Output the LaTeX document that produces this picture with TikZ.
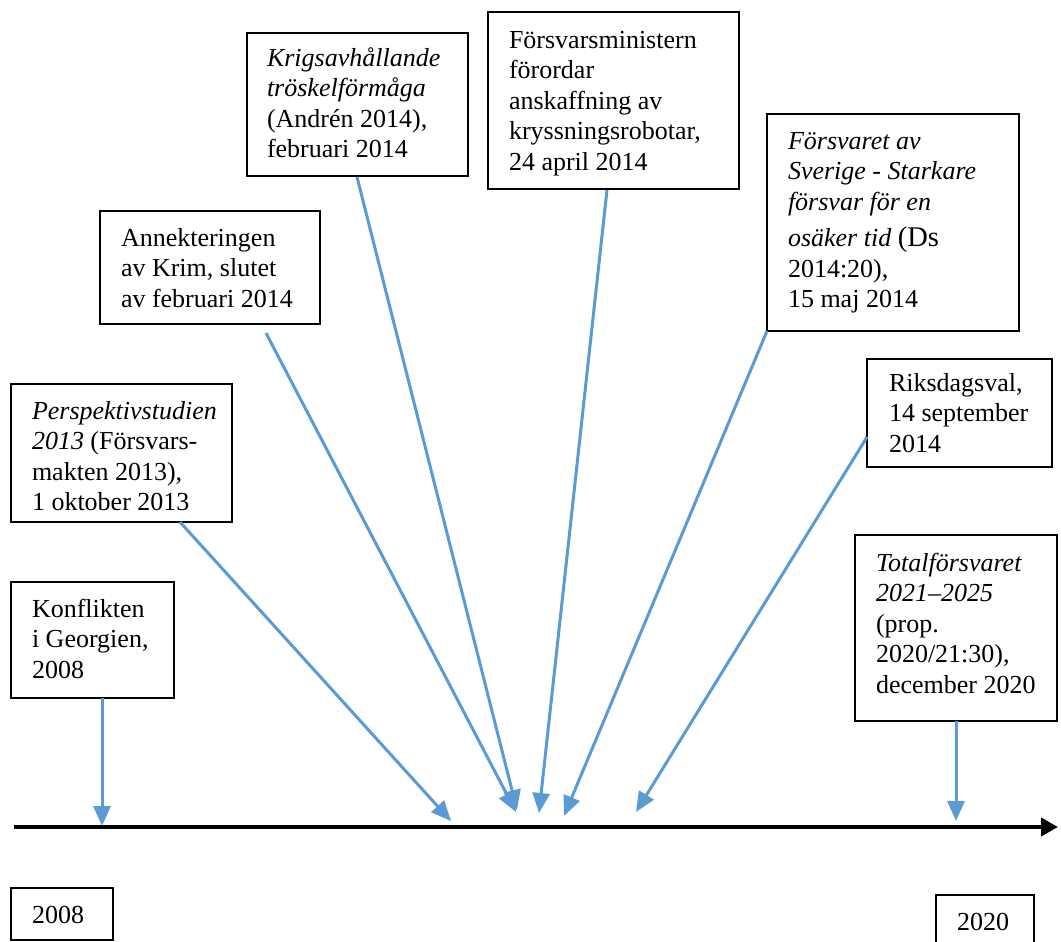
\documentclass[tikz,border=0pt]{standalone}
\usepackage{fontspec}
\setmainfont{Liberation Serif}
\usetikzlibrary{arrows.meta}
\definecolor{arrowblue}{HTML}{5B9BD5}
\newcommand{\fs}{\fontsize{26}{30.5}\selectfont}
\tikzset{
  box/.style={draw=black, line width=1.8pt, inner sep=0pt, outer sep=0pt, anchor=north west},
  txt/.style={anchor=north west, inner sep=0pt, outer sep=0pt, align=left, font=\fs},
  conn/.style={draw=arrowblue, line width=3pt, -{Triangle[length=20pt,width=17pt]}},
  axis/.style={draw=black, line width=4pt, -{Triangle[length=17pt,width=18pt]}}
}
\begin{document}
\begin{tikzpicture}[x=1pt,y=-1pt]
\clip (0,0) rectangle (1061,942);
\fill[white] (0,0) rectangle (1061,942);

% boxes
\node[box, minimum width=163pt, minimum height=116pt] (konf) at (11,582) {};
\node[box, minimum width=221pt, minimum height=138pt] (persp) at (11,384) {};
\node[box, minimum width=220pt, minimum height=113pt] (annek) at (100,211) {};
\node[box, minimum width=221pt, minimum height=143pt] (krig) at (247,33) {};
\node[box, minimum width=251pt, minimum height=177pt] (fmin) at (488,12) {};
\node[box, minimum width=252pt, minimum height=217pt] (fsv) at (767,114) {};
\node[box, minimum width=185pt, minimum height=108pt] (riks) at (867,359) {};
\node[box, minimum width=202pt, minimum height=186pt] (totf) at (855,535) {};
\node[box, minimum width=102pt, minimum height=52pt] (y2008) at (11,888) {};
\node[box, minimum width=98pt, minimum height=60pt] (y2020) at (936,895) {};

% texts
\node[txt] (konft) at (32,596) {\strut Konflikten\\ i Georgien,\\ 2008};
\node[txt] (perspt) at (32,398) {\strut\textit{Perspektivstudien}\\ \textit{2013} (Försvars-\\ makten 2013),\\ 1 oktober 2013};
\node[txt] (annekt) at (121,225) {\strut Annekteringen\\ av Krim, slutet\\ av februari 2014};
\node[txt] (krigt) at (267,45) {\strut\textit{Krigsavhållande}\\ \textit{tröskelförmåga}\\ (Andrén 2014),\\ februari 2014};
\node[txt] (fmint) at (509,27) {\strut Försvarsministern\\ förordar\\ anskaffning av\\ kryssningsrobotar,\\ 24 april 2014};
\node[txt] (fsvt) at (788,128) {\strut\textit{Försvaret av}\\ \textit{Sverige - Starkare}\\ \textit{försvar för en}\\[6pt] \textit{osäker tid} {\fontsize{28.5}{30.5}\selectfont (Ds}\\ 2014:20),\\ 15 maj 2014};
\node[txt] (rikst) at (889,370) {\strut Riksdagsval,\\ 14 september\\ 2014};
\node[txt] (totft) at (876,550) {\strut\textit{Totalförsvaret}\\ \textit{2021–2025}\\ (prop.\\ 2020/21:30),\\ december 2020};
\node[txt] (t2008) at (32,902) {\strut 2008};
\node[txt] (t2020) at (957,909) {\strut 2020};

% timeline
\coordinate (tl0) at (14,827);
\coordinate (tl1) at (1058,827);
\draw[axis] (tl0) -- (tl1);

% connector ends
\coordinate (konfs) at (102,698);  \coordinate (konfe) at (102,826);
\coordinate (persps) at (180,522); \coordinate (perspe) at (451,821);
\coordinate (anneks) at (266,333); \coordinate (anneke) at (516,812);
\coordinate (krigs) at (357,177);  \coordinate (krige) at (517,810);
\coordinate (fmins) at (607,190);  \coordinate (fmine) at (539,813);
\coordinate (fsvs) at (767,331);   \coordinate (fsve) at (564,816);
\coordinate (riksk) at (867,437);  \coordinate (rikse) at (636,812);
\coordinate (totfs) at (956,721);  \coordinate (totfe) at (956,821);

\draw[conn] (konfs) -- (konfe);
\draw[conn] (persps) -- (perspe);
\draw[conn] (anneks) -- (anneke);
\draw[conn] (krigs) -- (krige);
\draw[conn] (fmins) -- (fmine);
\draw[conn] (fsvs) -- (fsve);
\draw[conn] (riksk) -- (rikse);
\draw[conn] (totfs) -- (totfe);
\end{tikzpicture}
\end{document}
